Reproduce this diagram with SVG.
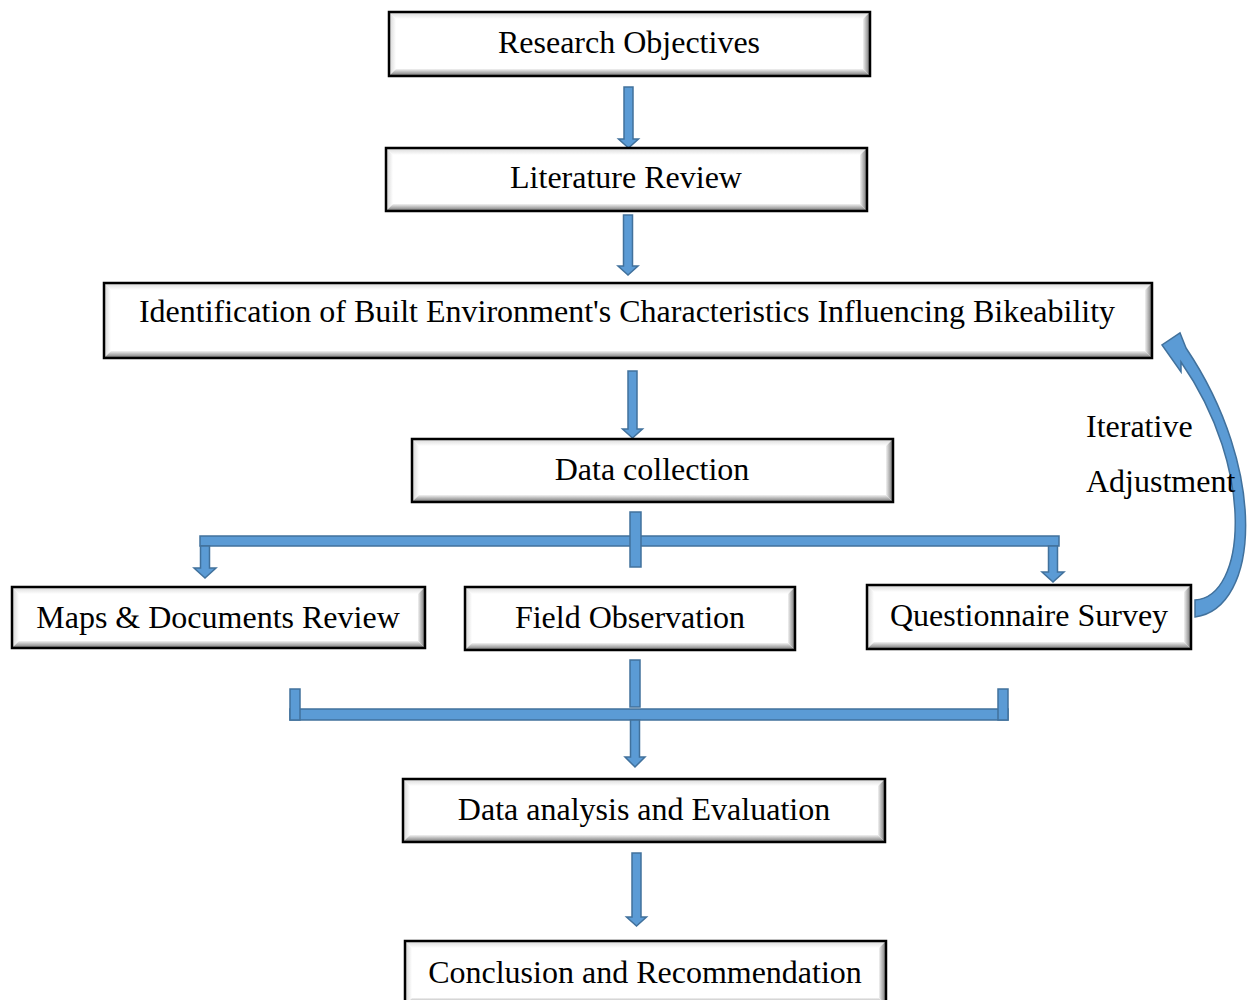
<svg xmlns="http://www.w3.org/2000/svg" width="1251" height="1000" viewBox="0 0 1251 1000">
<style>
.frame{fill:none;stroke:#000;stroke-width:2.5}
.inner{fill:#fff}
.bb{fill:url(#gB)}
.br{fill:url(#gR)}
.bt{fill:url(#gT)}
.bl{fill:url(#gL)}
.lbl{font-family:"Liberation Serif","Times New Roman",serif;font-size:32px;fill:#000;text-anchor:middle}
.side{font-family:"Liberation Serif","Times New Roman",serif;font-size:32px;fill:#000}
.ar{fill:#5b9bd5;stroke:#41719c;stroke-width:1.5;stroke-linejoin:miter}
</style>
<defs>
<linearGradient id="gB" x1="0" y1="0" x2="0" y2="1"><stop offset="0" stop-color="#f2f2f2"/><stop offset="1" stop-color="#707070"/></linearGradient>
<linearGradient id="gR" x1="0" y1="0" x2="1" y2="0"><stop offset="0" stop-color="#f2f2f2"/><stop offset="1" stop-color="#707070"/></linearGradient>
<linearGradient id="gT" x1="0" y1="1" x2="0" y2="0"><stop offset="0" stop-color="#ffffff"/><stop offset="1" stop-color="#d8d8d8"/></linearGradient>
<linearGradient id="gL" x1="1" y1="0" x2="0" y2="0"><stop offset="0" stop-color="#ffffff"/><stop offset="1" stop-color="#d4d4d4"/></linearGradient>
</defs>

<g id="connectors">
<path class="ar" d="M624,87 H633 V139 H638.5 L628.5,148 L618.5,139 H624 Z"/>
<path class="ar" d="M623.5,215 H632.5 V266 H638 L628,275 L618,266 H623.5 Z"/>
<path class="ar" d="M628,371 H637 V429 H642.5 L632.5,438 L622.5,429 H628 Z"/>
<rect class="ar" x="200" y="536" width="859" height="10"/>
<rect class="ar" x="630" y="512" width="11" height="55"/>
<path class="ar" d="M200.5,546 H209.5 V568 H216 L205,578 L194,568 H200.5 Z"/>
<path class="ar" d="M1048.5,546 H1057.5 V572 H1064 L1053,582 L1042,572 H1048.5 Z"/>
<rect class="ar" x="630" y="660" width="10" height="47"/>
<rect class="ar" x="290" y="709" width="718" height="11"/>
<rect class="ar" x="290" y="689" width="10" height="31"/>
<rect class="ar" x="998" y="689" width="10" height="31"/>
<path class="ar" d="M630.5,720 H639.5 V757 H645 L635,767 L625,757 H630.5 Z"/>
<path class="ar" d="M632,853 H641 V917 H646.5 L636.5,926 L626.5,917 H632 Z"/>
<path class="ar" d="M1195,617 C1260,608 1268,470 1186,348 L1180,333 L1162,345 L1181,372 L1181,362 C1256,470 1246,597 1195,600 Z"/>
</g>

<g id="research-objectives">
<rect class="inner" x="389" y="12" width="481" height="64"/>
<polygon class="bt" points="389,12 870,12 863,19 396,19"/>
<polygon class="bl" points="389,12 396,19 396,69 389,76"/>
<polygon class="bb" points="389,76 870,76 863,69 396,69"/>
<polygon class="br" points="870,12 870,76 863,69 863,19"/>
<rect class="frame" x="389" y="12" width="481" height="64"/>
<text class="lbl" x="629" y="53">Research Objectives</text>
</g>

<g id="literature-review">
<rect class="inner" x="386" y="148" width="481" height="63"/>
<polygon class="bt" points="386,148 867,148 860,155 393,155"/>
<polygon class="bl" points="386,148 393,155 393,204 386,211"/>
<polygon class="bb" points="386,211 867,211 860,204 393,204"/>
<polygon class="br" points="867,148 867,211 860,204 860,155"/>
<rect class="frame" x="386" y="148" width="481" height="63"/>
<text class="lbl" x="626" y="188">Literature Review</text>
</g>

<g id="identification">
<rect class="inner" x="104" y="283" width="1048" height="75"/>
<polygon class="bt" points="104,283 1152,283 1145,290 111,290"/>
<polygon class="bl" points="104,283 111,290 111,351 104,358"/>
<polygon class="bb" points="104,358 1152,358 1145,351 111,351"/>
<polygon class="br" points="1152,283 1152,358 1145,351 1145,290"/>
<rect class="frame" x="104" y="283" width="1048" height="75"/>
<text class="lbl" x="627" y="322">Identification of Built Environment's Characteristics Influencing Bikeability</text>
</g>

<g id="data-collection">
<rect class="inner" x="412" y="439" width="481" height="63"/>
<polygon class="bt" points="412,439 893,439 886,446 419,446"/>
<polygon class="bl" points="412,439 419,446 419,495 412,502"/>
<polygon class="bb" points="412,502 893,502 886,495 419,495"/>
<polygon class="br" points="893,439 893,502 886,495 886,446"/>
<rect class="frame" x="412" y="439" width="481" height="63"/>
<text class="lbl" x="652" y="480">Data collection</text>
</g>

<g id="maps-documents">
<rect class="inner" x="12" y="587" width="413" height="61"/>
<polygon class="bt" points="12,587 425,587 418,594 19,594"/>
<polygon class="bl" points="12,587 19,594 19,641 12,648"/>
<polygon class="bb" points="12,648 425,648 418,641 19,641"/>
<polygon class="br" points="425,587 425,648 418,641 418,594"/>
<rect class="frame" x="12" y="587" width="413" height="61"/>
<text class="lbl" x="218" y="628">Maps &amp; Documents Review</text>
</g>

<g id="field-observation">
<rect class="inner" x="465" y="587" width="330" height="63"/>
<polygon class="bt" points="465,587 795,587 788,594 472,594"/>
<polygon class="bl" points="465,587 472,594 472,643 465,650"/>
<polygon class="bb" points="465,650 795,650 788,643 472,643"/>
<polygon class="br" points="795,587 795,650 788,643 788,594"/>
<rect class="frame" x="465" y="587" width="330" height="63"/>
<text class="lbl" x="630" y="628">Field Observation</text>
</g>

<g id="questionnaire-survey">
<rect class="inner" x="867" y="585" width="324" height="64"/>
<polygon class="bt" points="867,585 1191,585 1184,592 874,592"/>
<polygon class="bl" points="867,585 874,592 874,642 867,649"/>
<polygon class="bb" points="867,649 1191,649 1184,642 874,642"/>
<polygon class="br" points="1191,585 1191,649 1184,642 1184,592"/>
<rect class="frame" x="867" y="585" width="324" height="64"/>
<text class="lbl" x="1029" y="626">Questionnaire Survey</text>
</g>

<g id="data-analysis">
<rect class="inner" x="403" y="779" width="482" height="63"/>
<polygon class="bt" points="403,779 885,779 878,786 410,786"/>
<polygon class="bl" points="403,779 410,786 410,835 403,842"/>
<polygon class="bb" points="403,842 885,842 878,835 410,835"/>
<polygon class="br" points="885,779 885,842 878,835 878,786"/>
<rect class="frame" x="403" y="779" width="482" height="63"/>
<text class="lbl" x="644" y="820">Data analysis and Evaluation</text>
</g>

<g id="conclusion">
<rect class="inner" x="405" y="941" width="481" height="64"/>
<polygon class="bt" points="405,941 886,941 879,948 412,948"/>
<polygon class="bl" points="405,941 412,948 412,998 405,1005"/>
<polygon class="bb" points="405,1005 886,1005 879,998 412,998"/>
<polygon class="br" points="886,941 886,1005 879,998 879,948"/>
<rect class="frame" x="405" y="941" width="481" height="64"/>
<text class="lbl" x="645" y="983">Conclusion and Recommendation</text>
</g>

<g id="iterative-label">
<text class="side" x="1086" y="437">Iterative</text>
<text class="side" x="1086" y="492">Adjustment</text>
</g>
</svg>
